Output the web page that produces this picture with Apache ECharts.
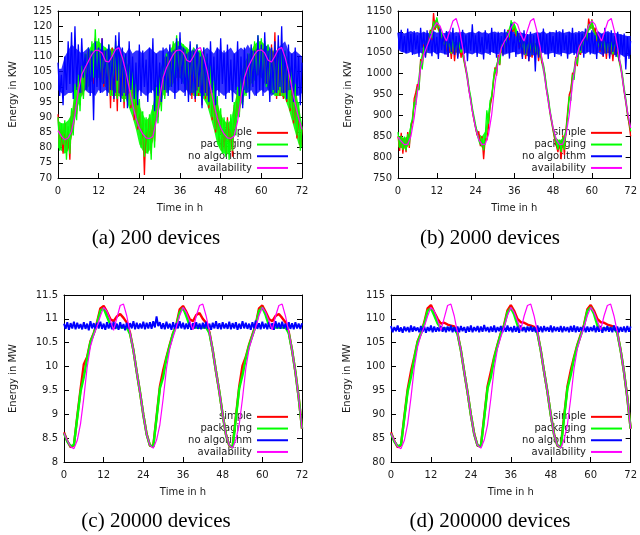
<!DOCTYPE html>
<html>
<head>
    <meta charset="utf-8">
    <title>Energy per algorithm</title>
    <script src="https://cdn.jsdelivr.net/npm/echarts@6/dist/echarts.min.js"></script>
</head>
<body style="margin:0;">
<div id="main" style="width:640px;height:535px;"></div>

<script type="text/javascript">
    // time ticks (h)
    var timeTicks = [0, 12, 24, 36, 48, 60, 72];
    var seriesNames = ['simple', 'packaging', 'no algorithm', 'availability'];
    var captions = ['(a) 200 devices', '(b) 2000 devices', '(c) 20000 devices', '(d) 200000 devices'];

    // (a) 200 devices, KW, every 0.5 h
    var simpleA = [
        91,80,86,78,88,79,85,76,92,85,
        99,91,103,94,106,97,109,100,112,102,
        113,101,116,104,114,102,116,100,112,99,
        111,93,113,95,111,92,114,96,110,93,
        108,96,106,93,104,89,99,86,94,81,
        89,71,88,79,90,78,92,82,98,90,
        104,94,108,97,110,99,112,101,114,103,
        115,102,114,104,113,100,112,98,113,96,
        112,95,113,97,111,94,112,96,108,93,
        105,89,100,85,95,82,91,79,88,78,
        90,80,88,77,94,86,99,91,103,95,
        107,98,110,100,112,102,114,104,116,103,
        115,102,113,101,112,98,114,100,118,96,
        112,97,113,96,111,95,109,92,104,88,
        99,83,92,80,86
    ];
    var packagingA = [
        90,79,88,81,89,76,87,78,93,84,
        101,89,104,92,107,96,111,99,113,101,
        115,103,119,105,116,104,114,102,113,100,
        114,97,112,99,115,96,113,98,112,95,
        110,98,108,94,105,91,101,87,96,80,
        92,77,90,78,91,76,94,80,100,88,
        105,92,109,96,111,98,113,100,115,102,
        117,104,116,103,114,101,113,99,114,98,
        113,97,114,98,112,96,113,97,110,94,
        107,90,102,86,97,81,93,78,90,77,
        89,76,91,79,95,84,100,90,104,94,
        108,97,111,99,113,101,115,103,117,104,
        116,103,115,100,114,99,113,98,114,97,
        113,98,114,97,112,96,110,93,106,89,
        101,84,95,79,87
    ];
    var noAlgoA = [
        108,97,104,94,110,99,115,101,118,96,
        120,100,114,98,116,103,111,99,113,97,
        112,89,115,100,113,98,116,101,112,97,
        114,99,110,96,117,102,118,95,113,98,
        111,93,115,99,110,96,108,94,114,97,
        112,100,109,95,113,98,116,92,111,97,
        108,95,113,99,110,97,114,100,112,96,
        116,99,118,101,113,97,111,95,115,98,
        112,96,114,100,110,93,113,98,111,95,
        115,99,110,94,113,97,116,101,112,96,
        114,98,109,95,111,99,115,97,110,93,
        113,98,111,96,114,100,112,97,117,99,
        114,97,118,101,112,95,113,99,115,98,
        117,100,120,98,112,96,114,99,111,95,
        113,97,110,94,108
    ];
    // hourly dense part of the noise (lower / upper edge)
    var packagingLoA = [
        80,79,78,79,83,89,94,97,99,100,102,103,
        103,101,100,98,97,97,97,96,96,93,90,86,
        81,79,78,79,82,89,93,97,99,100,101,103,
        103,101,99,98,97,97,97,96,94,90,86,81,
        79,78,78,79,84,90,94,97,99,101,102,104,
        103,101,99,98,97,97,97,96,93,89,85,81,
        80
    ];
    var packagingHiA = [
        89,88,88,89,91,99,104,107,110,112,114,115,
        115,114,113,112,113,112,112,111,109,106,103,99,
        94,91,89,90,94,100,105,109,111,112,114,115,
        115,114,113,112,112,112,112,111,109,105,100,95,
        91,89,88,89,94,99,104,108,110,112,114,115,
        115,114,113,112,112,112,112,111,109,105,100,94,
        88
    ];
    var noAlgoLoA = [
        99,98,97,98,98,99,99,98,99,98,98,97,
        99,98,99,98,99,98,98,97,97,98,98,97,
        99,98,97,98,99,97,98,99,98,99,98,98,
        99,98,99,97,98,99,98,97,97,98,98,99,
        98,97,98,99,98,97,98,99,98,99,97,98,
        99,98,99,97,98,99,98,98,99,97,98,97,
        98
    ];
    var noAlgoHiA = [
        106,106,110,112,114,113,112,111,112,113,111,112,
        113,112,112,113,111,113,114,112,111,113,111,112,
        112,111,112,113,112,111,112,112,113,111,112,113,
        114,113,112,111,113,112,111,112,113,112,111,113,
        112,111,112,113,111,112,113,112,114,112,112,113,
        112,113,114,112,111,113,114,115,112,111,112,111,
        110
    ];
    var availA = [
        85.6,83.7,82.6,83.2,85.4,90.9,98.6,104.1,106.3,108.5,110.7,112.0,
        112.0,111.2,108.5,108.2,110.1,112.3,112.9,109.6,105.2,99.7,94.2,89.8,
        86.5,84.5,83.2,83.0,83.7,88.7,96.4,103.0,106.3,108.5,110.7,112.0,
        112.2,111.2,108.8,108.2,110.1,112.4,113.0,109.8,105.3,99.8,94.3,89.8,
        86.5,84.5,83.2,83.0,83.8,88.7,96.4,103.0,106.3,108.5,110.7,112.0,
        112.2,111.2,108.8,108.2,110.1,112.4,113.0,109.8,105.3,99.8,94.3,89.8,
        86.0
    ];

    // (b) 2000 devices, KW, every 0.5 h
    var simpleB = [
        850,815,858,808,846,812,860,822,875,885,
        940,955,975,962,1035,1015,1070,1040,1092,1075,
        1105,1080,1145,1105,1130,1110,1112,1085,1090,1060,
        1078,1040,1072,1035,1085,1030,1076,1040,1080,1038,
        1058,1030,1010,990,960,940,912,890,872,852,
        862,826,850,795,845,840,872,925,940,980,
        1015,995,1045,1020,1070,1045,1088,1062,1105,1080,
        1120,1100,1112,1090,1098,1062,1085,1040,1088,1035,
        1082,1030,1090,1038,1075,1040,1080,1030,1062,1028,
        1018,995,960,940,910,888,865,842,845,812,
        835,795,852,805,868,910,950,960,1002,990,
        1040,1018,1070,1045,1085,1060,1100,1078,1132,1110,
        1130,1100,1110,1078,1088,1052,1090,1040,1082,1035,
        1085,1040,1080,1030,1076,1045,1058,1030,1015,990,
        958,935,905,880,850
    ];
    var packagingB = [
        860,822,851,818,849,816,855,828,880,890,
        932,925,968,960,1030,1010,1065,1045,1088,1070,
        1102,1085,1125,1110,1135,1115,1110,1090,1088,1066,
        1080,1050,1078,1048,1082,1052,1079,1046,1076,1050,
        1062,1035,1015,995,965,945,918,898,878,858,
        858,830,846,816,850,912,880,935,945,985,
        1012,1000,1040,1022,1072,1050,1085,1068,1102,1086,
        1128,1105,1118,1098,1095,1075,1080,1055,1078,1045,
        1080,1048,1076,1044,1079,1050,1075,1042,1060,1035,
        1022,998,968,945,915,892,870,848,850,818,
        842,812,848,818,862,900,945,935,998,985,
        1038,1022,1068,1050,1082,1066,1098,1080,1118,1112,
        1128,1105,1105,1085,1082,1060,1080,1050,1078,1048,
        1081,1052,1077,1046,1080,1050,1060,1035,1020,995,
        965,940,910,888,862
    ];
    var noAlgoB = [
        1098,1060,1105,1052,1090,1048,1108,1055,1095,1045,
        1102,1058,1092,1040,1110,1062,1098,1038,1104,1055,
        1095,1042,1100,1050,1088,1035,1108,1056,1096,1046,
        1102,1040,1094,1052,1110,1045,1090,1036,1100,1058,
        1105,1048,1092,1030,1098,1055,1118,1050,1092,1040,
        1100,1052,1088,1034,1104,1058,1094,1045,1110,1050,
        1096,1038,1100,1056,1090,1042,1106,1050,1098,1036,
        1120,1052,1095,1040,1102,1058,1090,1035,1104,1048,
        1095,1030,1100,1045,1092,1005,1098,1038,1096,1052,
        1108,1046,1094,1035,1100,1055,1090,1040,1104,1050,
        1098,1042,1106,1056,1092,1036,1100,1050,1110,1045,
        1094,1040,1102,1055,1096,1038,1108,1052,1098,1046,
        1104,1050,1092,1035,1100,1055,1095,1042,1110,1048,
        1098,1036,1104,1052,1090,1040,1100,1030,1094,1045,
        1096,1010,1088,1035,1078
    ];
    // hourly dense part of the noise (lower / upper edge)
    var packagingLoB = [
        825,822,820,824,858,912,955,1012,1045,1065,1082,1102,
        1110,1090,1068,1052,1050,1050,1050,1052,1038,998,948,902,
        862,835,822,830,875,935,995,1020,1050,1068,1085,1105,
        1100,1080,1060,1050,1048,1048,1050,1048,1038,1000,948,896,
        855,828,820,822,850,932,980,1025,1052,1068,1082,1102,
        1108,1088,1064,1052,1050,1050,1050,1048,1038,1000,945,892,
        856
    ];
    var packagingHiB = [
        852,848,846,850,880,935,975,1035,1070,1088,1102,1125,
        1130,1110,1088,1076,1075,1076,1075,1074,1060,1015,968,918,
        878,856,850,862,912,958,1012,1040,1072,1088,1102,1124,
        1122,1102,1085,1076,1075,1074,1074,1072,1058,1020,966,912,
        870,846,840,845,870,950,1000,1040,1070,1085,1100,1120,
        1124,1106,1086,1076,1076,1075,1076,1074,1056,1018,962,908,
        864
    ];
    var noAlgoLoB = [
        1058,1052,1050,1048,1052,1046,1048,1050,1045,1050,1048,1052,
        1046,1050,1048,1045,1050,1047,1052,1048,1045,1050,1048,1046,
        1050,1048,1045,1050,1047,1052,1048,1046,1050,1045,1048,1050,
        1052,1046,1048,1045,1042,1040,1044,1046,1048,1050,1046,1048,
        1050,1047,1045,1050,1048,1046,1050,1048,1045,1050,1047,1052,
        1048,1046,1050,1045,1048,1050,1046,1044,1048,1045,1040,1042,
        1045
    ];
    var noAlgoHiB = [
        1098,1100,1096,1099,1102,1098,1100,1097,1101,1096,1099,1102,
        1098,1100,1096,1099,1102,1097,1100,1098,1101,1096,1099,1100,
        1097,1102,1098,1100,1096,1099,1101,1097,1100,1098,1102,1105,
        1100,1097,1099,1096,1094,1095,1097,1100,1098,1102,1096,1099,
        1100,1098,1102,1097,1099,1101,1096,1100,1098,1102,1099,1097,
        1100,1098,1101,1096,1099,1102,1097,1098,1096,1094,1092,1090,
        1090
    ];
    var availB = [
        848,838,830,831,850,894,954,1014,1046,1066,1086,1110,
        1122,1114,1094,1078,1102,1126,1132,1106,1062,1014,958,910,
        870,842,830,831,854,902,974,1030,1062,1078,1090,1110,
        1124,1118,1094,1078,1102,1126,1132,1102,1062,1014,958,910,
        870,842,830,831,854,902,974,1030,1062,1078,1090,1114,
        1126,1118,1094,1078,1102,1126,1132,1102,1062,1014,958,910,
        870
    ];

    // (c) 20000 devices, MW, hourly
    var simpleC = [
        8.62,8.44,8.31,8.35,8.95,9.52,10.05,10.20,10.53,10.70,10.93,11.22,
        11.27,11.15,11.00,10.95,11.05,11.10,11.02,10.92,10.70,10.34,9.89,9.46,
        8.99,8.59,8.34,8.33,8.95,9.58,9.92,10.20,10.46,10.70,10.88,11.20,
        11.27,11.15,11.00,10.95,11.08,11.12,11.00,10.92,10.72,10.34,9.89,9.47,
        8.99,8.58,8.34,8.31,8.95,9.58,10.02,10.20,10.46,10.67,10.88,11.22,
        11.28,11.15,11.00,10.95,11.06,11.10,11.02,10.93,10.72,10.34,9.89,9.35,
        8.70
    ];
    var packagingC = [
        8.60,8.43,8.33,8.36,8.92,9.47,9.78,10.17,10.51,10.69,10.90,11.17,
        11.22,11.05,10.88,10.82,10.82,10.83,10.82,10.82,10.68,10.34,9.89,9.46,
        8.99,8.58,8.35,8.32,8.92,9.54,9.78,10.17,10.44,10.69,10.86,11.14,
        11.23,11.06,10.86,10.82,10.82,10.81,10.82,10.82,10.70,10.34,9.89,9.47,
        8.99,8.57,8.35,8.30,8.92,9.54,9.82,10.17,10.44,10.65,10.86,11.17,
        11.24,11.08,10.86,10.82,10.82,10.82,10.82,10.82,10.70,10.34,9.89,9.35,
        8.70
    ];
    // every 0.5 h
    var noAlgoC = [
        10.90,10.79,10.93,10.77,10.91,10.80,10.94,10.78,10.92,10.80,
        10.89,10.78,10.93,10.79,10.90,10.76,10.95,10.80,10.91,10.78,
        10.92,10.80,10.94,10.79,10.90,10.77,10.93,10.80,10.91,10.78,
        10.94,10.79,10.90,10.77,10.93,10.80,10.89,10.76,10.92,10.79,
        10.91,10.80,10.95,10.78,10.92,10.79,10.90,10.80,10.94,10.78,
        10.92,10.80,10.93,10.79,10.95,10.82,11.05,10.85,10.93,10.79,
        10.91,10.78,10.94,10.80,10.90,10.77,10.93,10.79,10.91,10.80,
        10.95,10.80,10.92,10.78,10.90,10.79,10.94,10.77,10.91,10.80,
        10.93,10.79,10.90,10.78,10.92,10.80,10.94,10.79,10.90,10.77,
        10.92,10.80,10.95,10.79,10.91,10.78,10.93,10.80,10.90,10.79,
        10.94,10.78,10.91,10.80,10.93,10.77,10.90,10.79,10.95,10.80,
        10.92,10.79,10.90,10.77,10.93,10.80,10.96,10.79,10.91,10.78,
        10.94,10.80,10.90,10.78,10.93,10.79,10.91,10.77,10.95,10.80,
        10.92,10.79,10.94,10.80,10.90,10.77,10.93,10.79,10.91,10.78,
        10.93,10.80,10.90,10.79,10.91
    ];
    var availC = [
        8.60,8.45,8.32,8.28,8.45,8.80,9.35,9.98,10.42,10.66,10.84,11.06,
        11.24,11.16,10.98,10.76,11.02,11.28,11.31,11.06,10.70,10.34,9.89,9.46,
        8.99,8.58,8.35,8.29,8.46,8.78,9.33,9.96,10.38,10.62,10.83,11.07,
        11.24,11.14,10.96,10.77,11.06,11.28,11.31,11.06,10.72,10.34,9.89,9.47,
        8.99,8.57,8.35,8.29,8.47,8.78,9.33,9.96,10.38,10.62,10.83,11.07,
        11.24,11.14,10.96,10.77,11.06,11.28,11.31,11.06,10.72,10.34,9.89,9.35,
        8.70
    ];

    // (d) 200000 devices, MW, hourly
    var simpleD = [
        86.2,84.4,83.1,83.5,89.5,95.2,99.0,102.0,105.3,107.0,109.3,112.2,
        112.9,111.4,110.0,109.0,109.2,108.8,108.6,108.4,106.9,103.4,98.9,94.6,
        89.9,85.9,83.4,83.3,89.5,95.8,98.9,102.0,104.6,107.0,108.8,111.8,
        112.9,111.7,110.0,109.3,109.2,108.8,108.6,108.3,107.1,103.4,98.9,94.7,
        89.9,85.8,83.4,83.1,89.5,95.8,99.2,102.0,104.6,106.7,108.8,112.0,
        112.9,111.7,110.0,109.3,109.2,108.8,108.6,108.3,107.1,103.4,98.9,93.5,
        87.0
    ];
    var packagingD = [
        86.0,84.3,83.3,83.6,89.2,94.7,97.8,101.7,105.1,106.9,109.0,111.7,
        112.2,110.7,109.0,108.1,108.0,108.0,108.0,108.0,106.8,103.4,98.9,94.6,
        89.9,85.8,83.5,83.2,89.2,95.4,97.8,101.7,104.4,106.9,108.6,111.4,
        112.3,110.9,108.7,108.0,108.0,107.9,108.0,108.0,107.0,103.4,98.9,94.7,
        89.9,85.7,83.5,83.0,89.2,95.4,98.2,101.7,104.4,106.5,108.6,111.7,
        112.4,111.0,108.6,108.0,108.0,108.0,108.0,108.0,107.0,103.4,98.9,93.5,
        87.0
    ];
    // every 0.5 h
    var noAlgoD = [
        108.5,107.2,108.3,107.4,108.6,107.3,108.2,107.1,108.4,107.4,
        108.3,107.2,108.6,107.3,108.4,107.5,108.2,107.2,108.5,107.3,
        108.4,107.1,108.3,107.4,108.6,107.2,108.4,107.3,108.2,107.4,
        108.5,107.3,108.3,107.2,108.4,107.4,108.6,107.2,108.3,107.3,
        108.4,107.2,108.5,107.4,108.3,107.1,108.4,107.3,108.6,107.2,
        108.3,107.4,108.5,107.2,108.4,107.3,108.7,107.4,108.3,107.2,
        108.4,107.3,108.6,107.2,108.3,107.4,108.5,107.2,108.4,107.3,
        108.6,107.4,108.3,107.2,108.5,107.3,108.4,107.1,108.6,107.4,
        108.3,107.2,108.4,107.4,108.5,107.3,108.3,107.2,108.6,107.3,
        108.4,107.2,108.5,107.4,108.3,107.3,108.6,107.2,108.4,107.4,
        108.3,107.3,108.5,107.2,108.4,107.4,108.3,107.2,108.5,107.3,
        108.6,107.2,108.4,107.3,108.3,107.4,108.5,107.2,108.4,107.3,
        108.3,107.4,108.6,107.2,108.4,107.3,108.5,107.1,108.3,107.4,
        108.5,107.3,108.3,107.2,108.6,107.4,108.4,107.2,108.3,107.3,
        108.4,107.2,108.5,107.3,108.4
    ];
    var availD = [
        86.0,84.5,83.2,82.8,84.5,88.0,93.5,99.8,104.2,106.6,108.4,110.6,
        112.4,111.6,109.8,107.6,110.2,112.8,113.1,110.6,107.0,103.4,98.9,94.6,
        89.9,85.8,83.5,82.9,84.6,87.8,93.3,99.6,103.8,106.2,108.3,110.7,
        112.4,111.4,109.6,107.7,110.6,112.8,113.1,110.6,107.2,103.4,98.9,94.7,
        89.9,85.7,83.5,82.9,84.7,87.8,93.3,99.6,103.8,106.2,108.3,110.7,
        112.4,111.4,109.6,107.7,110.6,112.8,113.1,110.6,107.2,103.4,98.9,93.5,
        87.0
    ];

    // [x, y] pairs, step in hours
    function pts(values, step) {
        return values.map(function (v, i) { return [i * step, v]; });
    }
    // [y, x] rows for the stacked band (y first so the stack runs on y)
    function edgeRows(lo) {
        return lo.map(function (v, i) { return [v, i]; });
    }
    function spanRows(lo, hi) {
        return lo.map(function (v, i) { return [hi[i] - v, i]; });
    }

    var font = 'DejaVu Sans';
    var textColor = '#1a1a1a';

    var panels = [
        {grid: {left: 58, top: 11, width: 244, height: 167}, min: 70, max: 125, step: 5, unit: 'Energy in KW', nameGap: 40,
         legendRight: 352, legendTop: 127, capX: 156, capY: 238,
         data: [[simpleA, 0.5], [packagingA, 0.5], [noAlgoA, 0.5], [availA, 1]], widths: [1.3, 1.3, 1.3, 1.2],
         bands: {1: [packagingLoA, packagingHiA, 0.9], 2: [noAlgoLoA, noAlgoHiA, 0.8]}},
        {grid: {left: 398, top: 11, width: 237, height: 167}, min: 750, max: 1150, step: 50, unit: 'Energy in KW', nameGap: 45,
         legendRight: 18, legendTop: 127, capX: 490, capY: 238,
         data: [[simpleB, 0.5], [packagingB, 0.5], [noAlgoB, 0.5], [availB, 1]], widths: [1.3, 1.3, 1.3, 1.2],
         bands: {1: [packagingLoB, packagingHiB, 0.9], 2: [noAlgoLoB, noAlgoHiB, 0.85]}},
        {grid: {left: 64, top: 295, width: 238, height: 167}, min: 8, max: 11.5, step: 0.5, unit: 'Energy in MW', nameGap: 46,
         legendRight: 352, legendTop: 411, capX: 156, capY: 521,
         data: [[simpleC, 1], [packagingC, 1], [noAlgoC, 0.5], [availC, 1]], widths: [2.4, 2.4, 1.9, 1.2], bands: {}},
        {grid: {left: 391, top: 295, width: 244, height: 167}, min: 80, max: 115, step: 5, unit: 'Energy in MW', nameGap: 39,
         legendRight: 18, legendTop: 411, capX: 490, capY: 521,
         data: [[simpleD, 1], [packagingD, 1], [noAlgoD, 0.5], [availD, 1]], widths: [2.4, 2.4, 1.9, 1.2], bands: {}}
    ];
    var colors = ['#ff0000', '#00ff00', '#0000ff', '#ff00ff'];

    var grids = [], xAxes = [], yAxes = [], series = [], legends = [], texts = [];
    var tick = {show: true, inside: true, length: 5, lineStyle: {color: '#000'}};
    var line = {show: true, onZero: false, lineStyle: {color: '#000', width: 1}};
    // plain numbers, no thousands separator
    var plain = function (v) { return String(v); };

    panels.forEach(function (p, i) {
        grids.push(p.grid);
        // bottom + top (mirror ticks)
        xAxes.push({
            gridIndex: i, type: 'value', position: 'bottom', min: timeTicks[0], max: timeTicks[timeTicks.length - 1], interval: 12,
            axisLine: line, axisTick: tick, splitLine: {show: false},
            axisLabel: {fontFamily: font, fontSize: 10, color: textColor, margin: 8, formatter: plain},
            name: 'Time in h', nameLocation: 'middle', nameGap: 25,
            nameTextStyle: {fontFamily: font, fontSize: 10, color: textColor}
        });
        xAxes.push({
            gridIndex: i, type: 'value', position: 'top', min: 0, max: 72, interval: 12,
            axisLine: line, axisTick: tick, axisLabel: {show: false}, splitLine: {show: false}
        });
        // left + right
        yAxes.push({
            gridIndex: i, type: 'value', position: 'left', min: p.min, max: p.max, interval: p.step,
            axisLine: line, axisTick: tick, splitLine: {show: false},
            axisLabel: {fontFamily: font, fontSize: 10, color: textColor, margin: 6, formatter: plain},
            name: p.unit, nameLocation: 'middle', nameGap: p.nameGap,
            nameTextStyle: {fontFamily: font, fontSize: 10, color: textColor}
        });
        yAxes.push({
            gridIndex: i, type: 'value', position: 'right', min: p.min, max: p.max, interval: p.step,
            axisLine: line, axisTick: tick, axisLabel: {show: false}, splitLine: {show: false}
        });

        p.data.forEach(function (d, k) {
            var band = p.bands[k];
            if (band) {
                // dense noise: stacked area between lower and upper edge
                var stackId = 'band' + i + '_' + k;
                series.push({
                    name: 'edge', type: 'line', stack: stackId,
                    xAxisIndex: 2 * i, yAxisIndex: 2 * i,
                    encode: {x: 1, y: 0},
                    data: edgeRows(band[0]), symbol: 'none', silent: true,
                    lineStyle: {opacity: 0}
                });
                series.push({
                    name: 'fill', type: 'line', stack: stackId,
                    xAxisIndex: 2 * i, yAxisIndex: 2 * i,
                    encode: {x: 1, y: 0},
                    data: spanRows(band[0], band[1]), symbol: 'none', silent: true,
                    lineStyle: {opacity: 0},
                    areaStyle: {color: colors[k], opacity: band[2]}
                });
            }
            series.push({
                name: seriesNames[k], type: 'line',
                xAxisIndex: 2 * i, yAxisIndex: 2 * i,
                data: pts(d[0], d[1]),
                symbol: 'none', showSymbol: false, silent: true,
                lineStyle: {color: colors[k], width: p.widths[k]},
                itemStyle: {color: colors[k]}
            });
        });

        // gnuplot style key: text right aligned, sample line on the right
        legends.push({
            data: seriesNames, orient: 'vertical', align: 'right',
            right: p.legendRight, top: p.legendTop, padding: 0,
            itemWidth: 31, itemHeight: 2, itemGap: 0, icon: 'rect',
            selectedMode: false, z: 1,
            textStyle: {fontFamily: font, fontSize: 10, lineHeight: 11.7, color: textColor}
        });

        texts.push({
            type: 'text', x: p.capX, y: p.capY,
            style: {text: captions[i], align: 'center', verticalAlign: 'middle',
                    font: '21px "Liberation Serif"', fill: '#000'}
        });
    });

    var chart = echarts.init(document.getElementById('main'));
    chart.setOption({
        animation: false,
        color: colors,
        textStyle: {fontFamily: font},
        grid: grids,
        xAxis: xAxes,
        yAxis: yAxes,
        legend: legends,
        graphic: texts,
        series: series
    });
</script>
</body>
</html>
